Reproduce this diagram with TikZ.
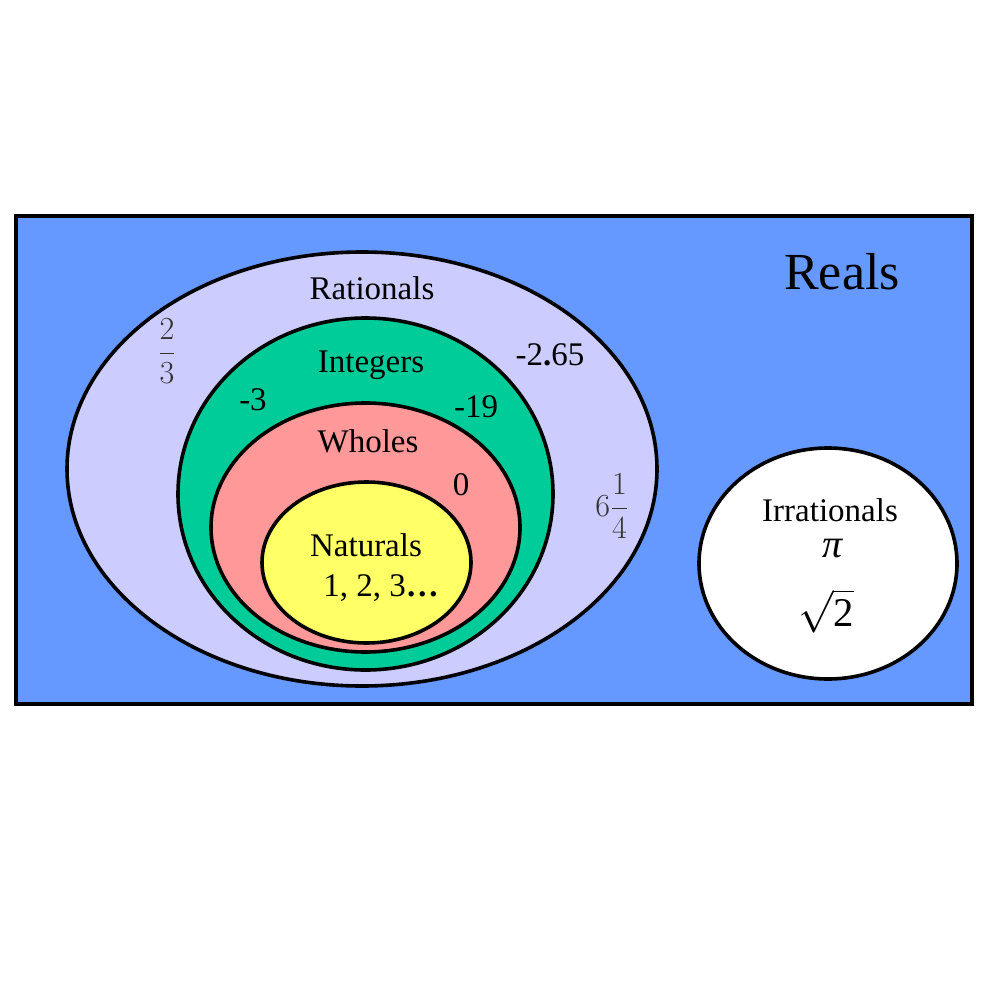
\documentclass[tikz,border=0pt]{standalone}
\usepackage{graphicx}
\usepackage{fontspec}
\setmainfont{Liberation Serif}
\usetikzlibrary{shapes.geometric}
\definecolor{realblue}{HTML}{6699FF}
\definecolor{ratlav}{HTML}{CCCCFF}
\definecolor{intgreen}{HTML}{00CC99}
\definecolor{wholepink}{HTML}{FF9999}
\definecolor{natyellow}{HTML}{FFFF66}
\tikzset{
  setell/.style={ellipse, draw=black, line width=3.6pt, inner sep=0pt},
  lbl/.style={inner sep=0pt, font=\fontsize{33}{38}\selectfont},
  biglbl/.style={inner sep=0pt, font=\fontsize{52}{60}\selectfont},
  fraclbl/.style={inner sep=0pt, text=black!80, font=\fontsize{20}{24}\selectfont},
}
\begin{document}
\begin{tikzpicture}[x=1pt,y=-1pt]
\useasboundingbox (0,0) rectangle (1000,1000);
\fill[white] (0,0) rectangle (1000,1000);
\node[draw=black, line width=4pt, fill=realblue, minimum width=956pt, minimum height=487pt, inner sep=0pt] (reals) at (494,460) {};
\node[setell, fill=ratlav, minimum width=590pt, minimum height=434pt] (rat) at (362,469) {};
\node[setell, fill=intgreen, minimum width=375pt, minimum height=352pt] (int) at (365.5,494) {};
\node[setell, fill=wholepink, minimum width=309pt, minimum height=249pt] (whole) at (365.5,527.5) {};
\node[setell, fill=natyellow, minimum width=209pt, minimum height=161pt] (nat) at (366.5,562.5) {};
\node[setell, fill=white, minimum width=258pt, minimum height=231pt] (irr) at (828,563.5) {};
\node[biglbl] (trealslbl) at (842,272) {Reals};
\node[lbl] (tratlbl) at (372,288) {Rationals};
\node[lbl] (tintlbl) at (371,365) {Integers};
\node[lbl] (twholelbl) at (368,441) {Wholes};
\node[lbl] (tnatlbl) at (366,545) {Naturals};
\node[lbl] (tnatnum) at (381,588) {1, 2, 3\textbf{\ldots}};
\node[lbl] (tm3) at (253,400) {-3};
\node[lbl] (tm19) at (476,407) {-19};
\node[lbl] (tm265) at (550,355) {-2\textbf{.}65};
\node[lbl] (tzero) at (461,485) {0};
\node[fraclbl] (ttwothirds) at (167,351) {\scalebox{1.55}{$\displaystyle\frac{2}{3}$}};
\node[fraclbl] (tsixq) at (612,506) {\scalebox{1.55}{$\displaystyle 6\frac{1}{4}$}};
\node[lbl] (tirrlbl) at (830,510) {Irrationals};
\node[lbl, font=\fontsize{40}{44}\selectfont\itshape] (tpi) at (833,549) {π};
\node[lbl, font=\fontsize{24}{28}\selectfont] (tsqrt) at (826,611) {\scalebox{1.7}{$\sqrt{\hbox{2}}$}};
\end{tikzpicture}
\end{document}
